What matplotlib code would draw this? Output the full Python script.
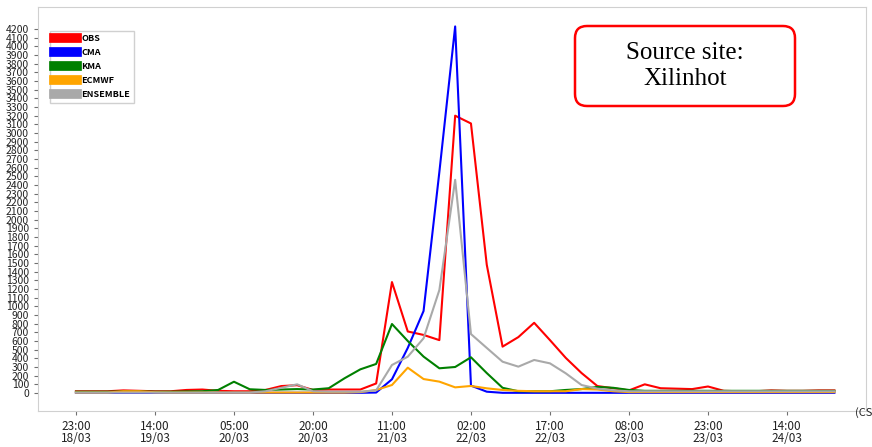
import numpy as np
import pandas as pd
import matplotlib
matplotlib.use("Agg")
import matplotlib.pyplot as plt
import matplotlib.dates as mdates
from matplotlib.lines import Line2D
from matplotlib.patches import FancyBboxPatch
from matplotlib.transforms import IdentityTransform

# 3-hourly series, 23:00 18/03 -> 23:00 24/03 (CST)
times = pd.date_range("2021-03-18 23:00", periods=49, freq="3h")

obs = [20, 20, 20, 30, 25, 20, 20, 35, 40, 25, 20, 20, 35, 80, 90, 35, 40, 40, 40, 110,
       1280, 710, 670, 610, 3200, 3110, 1480, 535, 645, 810, 610, 405, 230, 80, 55, 30,
       100, 55, 50, 45, 75, 25, 20, 20, 30, 25, 25, 30, 30]
cma = [2] * 19 + [5, 158, 520, 946, 2550, 4230, 85, 15] + [2] * 22
kma = [15, 15, 15, 18, 18, 15, 15, 18, 20, 35, 130, 43, 35, 40, 45, 40, 55, 170, 273, 335,
       796, 600, 420, 285, 300, 412, 230, 60, 20, 20, 20, 35, 45, 70, 60, 35, 25, 25, 25, 25,
       25, 25, 25, 25, 25, 25, 25, 25, 25]
ecmwf = [5, 5, 5, 20, 20, 8, 5, 5, 5, 5, 5, 5, 5, 5, 5, 5, 5, 5, 10, 35,
         92, 292, 161, 131, 65, 81, 54, 35, 25, 20, 20, 20, 45, 40, 20, 10, 10, 10, 10, 10,
         10, 10, 10, 10, 10, 10, 10, 10, 10]
ensemble = [5] * 12 + [20, 60, 100, 20, 15, 15, 15, 30,
                       323, 419, 631, 1188, 2460, 680, 520, 361, 304, 381, 342, 227, 92, 50, 30] + [20] * 14

series = [("OBS", obs, "red"), ("CMA", cma, "blue"), ("KMA", kma, "green"),
          ("ECMWF", ecmwf, "orange"), ("ENSEMBLE", ensemble, "darkgray")]

tick_font = ["Noto Sans CJK SC", "DejaVu Sans"]

fig = plt.figure(figsize=(8.72, 4.47), dpi=100)
ax = fig.add_axes([0.0436, 0.0805, 0.9495, 0.9038])

for name, vals, col in series:
    ax.plot(times, vals, color=col, lw=1.5, label=name)

ax.set_ylim(-208, 4454)
ax.set_yticks(np.arange(0, 4201, 100))
ax.set_xlim(times[0] - pd.Timedelta(hours=7.2), times[0] + pd.Timedelta(hours=150))
ax.set_xticks(times[::5][:10])
ax.xaxis.set_major_formatter(mdates.DateFormatter("%H:%M\n%d/%m"))

for s in ax.spines.values():
    s.set_color("#d0d0d0")
ax.tick_params(axis="both", colors="#707070", labelcolor="#222222", length=3)
for lab in ax.get_yticklabels():
    lab.set_family(tick_font)
    lab.set_fontsize(7.5)
for lab in ax.get_xticklabels():
    lab.set_family(tick_font)
    lab.set_fontsize(8.5)
    lab.set_linespacing(0.9)

# axis unit label, partly clipped at the right edge as in the original
fig.text(855 / 872, 1 - 413 / 447, "(CST)", fontsize=8, family=tick_font,
         va="center", ha="left", color="#222222")

handles = [Line2D([0], [0], color=c, lw=7) for _, _, c in series]
ax.legend(handles, [n for n, _, _ in series], loc="upper left",
          bbox_to_anchor=(0.009, 0.953), prop={"family": tick_font, "size": 6.5, "weight": "bold"},
          handlelength=2.6, handletextpad=0.5, labelspacing=0.55,
          framealpha=1, edgecolor="#d0d0d0", fancybox=False)

box = FancyBboxPatch((575, 447 - 106), 220, 80, boxstyle="round,pad=0,rounding_size=12",
                     transform=IdentityTransform(), facecolor="white", edgecolor="red", lw=1.8)
fig.add_artist(box)
fig.text(685 / 872, 1 - 66 / 447, "Source site:\nXilinhot", ha="center", va="center",
         family="Liberation Serif", fontsize=18, linespacing=1.2)

fig.savefig("out.png", dpi=100)
